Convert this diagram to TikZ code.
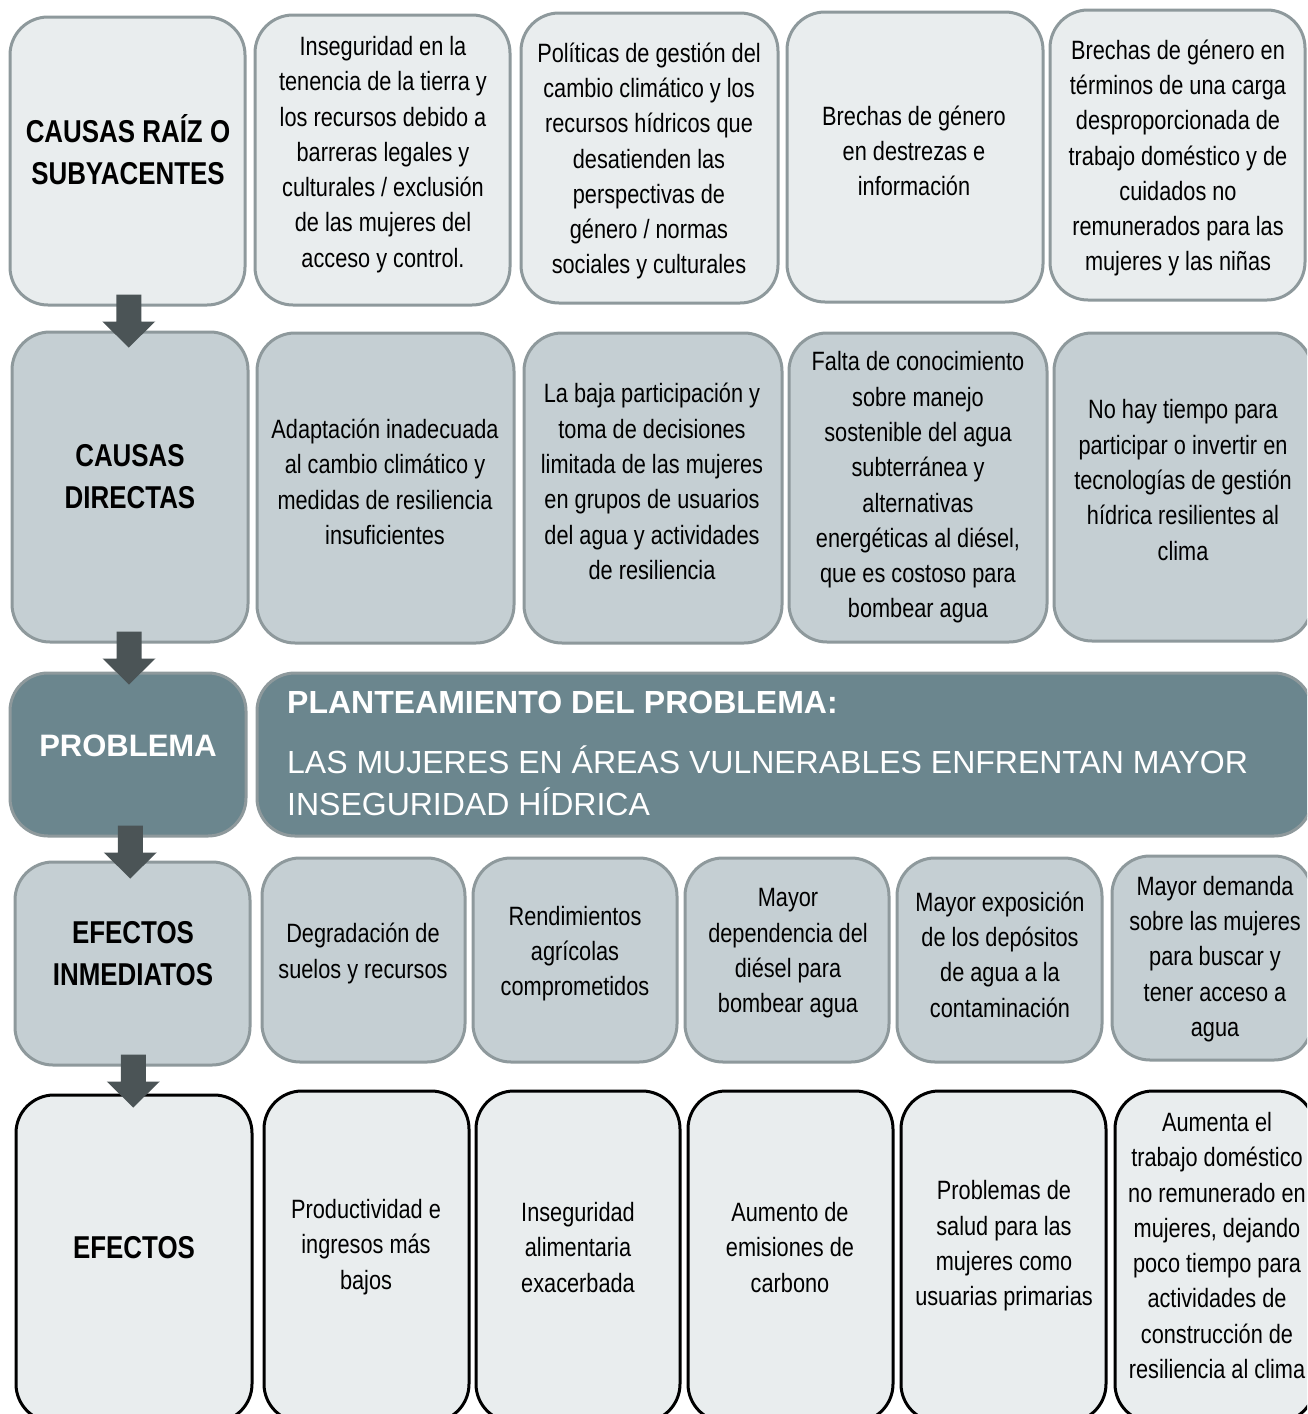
\documentclass[tikz,border=0pt]{standalone}
\usepackage{fontspec}
\setmainfont{Liberation Sans}[FakeStretch=0.82]
\newfontfamily\widefont{Liberation Sans}
\usetikzlibrary{calc}
\definecolor{lightfill}{HTML}{E9EDEE}
\definecolor{midfill}{HTML}{C5CFD3}
\definecolor{darkfill}{HTML}{6B868E}
\definecolor{grayline}{HTML}{8E999C}
\definecolor{arrowc}{HTML}{4B5456}
\newcommand\bodyfont{\fontsize{26.5}{35.3}\selectfont}
\newcommand\labfont{\fontsize{31.6}{42}\selectfont\bfseries}
\newcommand\bx[6]{\node[#1, minimum width={#4-#2}, minimum height={#5-#3}] (#6) at ({(#2+#4)/2},{(#3+#5)/2}) {};}
\newcommand\blockarrow[2]{%
  \coordinate (ax) at ($(#1.south)!0.5!(#2.north)$);
  \coordinate (a0) at (ax |- #1.south);
  \fill[blk] ($(a0)+(-12.5,-12)$) -- ($(a0)+(12.5,-12)$) -- ($(a0)+(12.5,15)$) -- ($(a0)+(26.5,15)$) -- ($(a0)+(0,41)$) -- ($(a0)+(-26.5,15)$) -- ($(a0)+(-12.5,15)$) -- cycle;}
\begin{document}
\begin{tikzpicture}[x=1pt,y=-1pt,
  box/.style={rectangle, rounded corners=38pt, line width=3pt, inner sep=0pt},
  rowa/.style={box, draw=grayline, fill=lightfill},
  rowb/.style={box, draw=grayline, fill=midfill},
  rowc/.style={box, draw=grayline, fill=darkfill},
  rowe/.style={box, draw=black, fill=lightfill},
  txt/.style={align=center, font=\bodyfont, inner sep=0pt, yshift=-2.5pt},
  lab/.style={align=center, font=\labfont, inner sep=0pt},
  blk/.style={fill=arrowc}]
\useasboundingbox (0,0) rectangle (1307,1414);
\clip (0,0) rectangle (1307,1414);
\fill[white] (0,0) rectangle (1307,1414);
% row 1
\bx{rowa}{10}{17}{245}{305}{L1}
\bx{rowa}{255}{15}{510}{305}{B11}
\bx{rowa}{521}{13}{778}{303}{B12}
\bx{rowa}{787}{12}{1043}{302}{B13}
\bx{rowa}{1050}{10}{1305}{300}{B14}
% row 2
\bx{rowb}{12}{332}{248}{642}{L2}
\bx{rowb}{257}{333}{514}{643}{B21}
\bx{rowb}{524}{333}{782}{643}{B22}
\bx{rowb}{789}{333}{1047}{642}{B23}
\bx{rowb}{1054}{333}{1312}{641}{B24}
% row 3
\bx{rowc}{10}{673}{246}{836}{P}
\bx{rowc}{257}{673}{1312}{836}{S}
% row 4
\bx{rowb}{15}{862}{250}{1065}{L4}
\bx{rowb}{262}{858}{465}{1062}{B41}
\bx{rowb}{473}{858}{677}{1062}{B42}
\bx{rowb}{685}{858}{889}{1062}{B43}
\bx{rowb}{897}{858}{1102}{1062}{B44}
\bx{rowb}{1112}{856}{1312}{1060}{B45}
% row 5
\bx{rowe}{16}{1095}{252}{1422}{L5}
\bx{rowe}{264}{1091}{469}{1422}{B51}
\bx{rowe}{476}{1091}{680}{1422}{B52}
\bx{rowe}{688}{1091}{893}{1422}{B53}
\bx{rowe}{901}{1091}{1106}{1422}{B54}
\bx{rowe}{1115}{1091}{1315}{1422}{B55}
% texts row 1
\node[lab] (tL1) at (128,149.5) {CAUSAS RAÍZ O\\SUBYACENTES};
\node[txt] (t11) at (383,152) {Inseguridad en la\\tenencia de la tierra y\\los recursos debido a\\barreras legales y\\culturales / exclusión\\de las mujeres del\\acceso y control.};
\node[txt] (t12) at (649,158.5) {Políticas de gestión del\\cambio climático y los\\recursos hídricos que\\desatienden las\\perspectivas de\\género / normas\\sociales y culturales};
\node[txt] (t13) at (914,148.5) {Brechas de género\\en destrezas e\\información};
\node[txt] (t14) at (1178,155.5) {Brechas de género en\\términos de una carga\\desproporcionada de\\trabajo doméstico y de\\cuidados no\\remunerados para las\\mujeres y las niñas};
% texts row 2
\node[lab] (tL2) at (130,477) {CAUSAS\\DIRECTAS};
\node[txt] (t21) at (385,479.5) {Adaptación inadecuada\\al cambio climático y\\medidas de resiliencia\\insuficientes};
\node[txt] (t22) at (652,479) {La baja participación y\\toma de decisiones\\limitada de las mujeres\\en grupos de usuarios\\del agua y actividades\\de resiliencia};
\node[txt] (t23) at (918,485) {Falta de conocimiento\\sobre manejo\\sostenible del agua\\subterránea y\\alternativas\\energéticas al diésel,\\que es costoso para\\bombear agua};
\node[txt] (t24) at (1183,477.5) {No hay tiempo para\\participar o invertir en\\tecnologías de gestión\\hídrica resilientes al\\clima};
% texts row 3
\node[inner sep=0pt, text=white, font={\widefont\fontsize{31}{42}\selectfont\bfseries}] (tP) at (128,746) {PROBLEMA};
\node[anchor=west, inner sep=0pt, text=white, font={\widefont\fontsize{32}{42}\selectfont\bfseries}] (tS1) at (287,702) {PLANTEAMIENTO DEL PROBLEMA:};
\node[anchor=west, align=left, inner sep=0pt, text=white, font={\widefont\fontsize{32}{42}\selectfont}] (tS2) at (287,781) {LAS MUJERES EN ÁREAS VULNERABLES ENFRENTAN MAYOR\\INSEGURIDAD HÍDRICA};
% texts row 4
\node[lab] (tL4) at (133,953.5) {EFECTOS\\INMEDIATOS};
\node[txt] (t41) at (363,951) {Degradación de\\suelos y recursos};
\node[txt] (t42) at (575,951) {Rendimientos\\agrícolas\\comprometidos};
\node[txt] (t43) at (788,951) {Mayor\\dependencia del\\diésel para\\bombear agua};
\node[txt] (t44) at (1000,952) {Mayor exposición\\de los depósitos\\de agua a la\\contaminación};
\node[txt] (t45) at (1215,956.5) {Mayor demanda\\sobre las mujeres\\para buscar y\\tener acceso a\\agua};
% texts row 5
\node[lab] (tL5) at (134,1248) {EFECTOS};
\node[txt] (t51) at (366,1244.5) {Productividad e\\ingresos más\\bajos};
\node[txt] (t52) at (578,1245) {Inseguridad\\alimentaria\\exacerbada};
\node[txt] (t53) at (790,1245) {Aumento de\\emisiones de\\carbono};
\node[txt] (t54) at (1004,1243.5) {Problemas de\\salud para las\\mujeres como\\usuarias primarias};
\node[txt] (t55) at (1217,1243) {Aumenta el\\trabajo doméstico\\no remunerado en\\mujeres, dejando\\poco tiempo para\\actividades de\\construcción de\\resiliencia al clima};
% block arrows
\blockarrow{L1}{L2}
\blockarrow{L2}{P}
\blockarrow{P}{L4}
\blockarrow{L4}{L5}
\end{tikzpicture}
\end{document}
